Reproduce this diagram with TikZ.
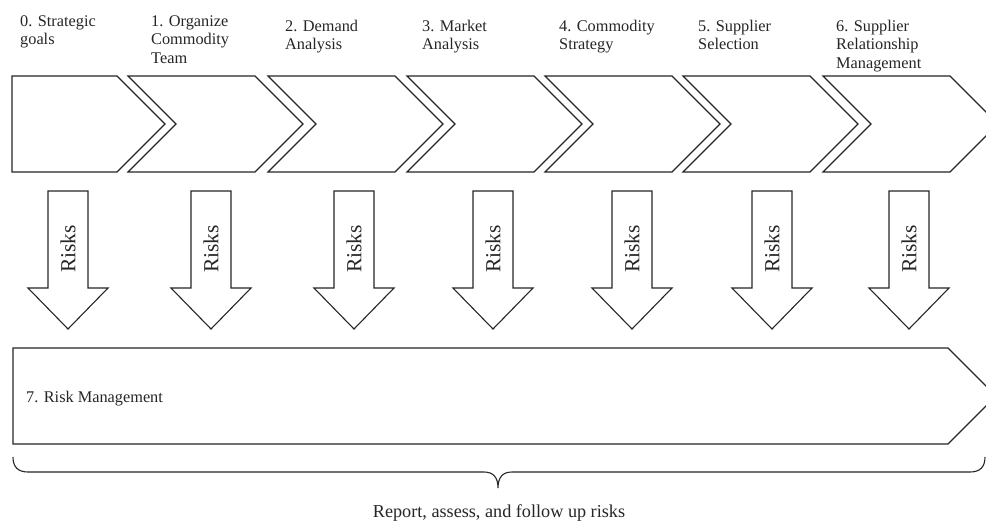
\documentclass[tikz,border=0pt]{standalone}
\usepackage{fontspec}
\setmainfont{Liberation Serif}
% lines stacked so that the box baseline is the first line's baseline
\newcommand\linestack[1]{\vtop{\halign{##\hfil\cr#1\crcr}}}
\begin{document}
\begin{tikzpicture}[x=1pt,y=-1pt,
  outline/.style={draw=black!85,line width=1.1pt,line join=miter,fill=white},
  steplabel/.style={anchor=base west,inner sep=0pt,text=black!85,
    font=\fontsize{16.3}{18.8}\selectfont},
  riskword/.style={rotate=90,inner sep=0pt,text=black!85,
    font=\fontsize{21.5}{24}\selectfont},
  plainlabel/.style={inner sep=0pt,text=black!85},
]
\clip (0,0) rectangle (986,520);
\fill[white] (0,0) rectangle (986,520);

% process chevrons
\draw[outline] (12,76) -- (117,76) -- (165,124) -- (117,172) -- (12,172) -- cycle;
\foreach \l in {128,268,407,545,683,823}{
  \draw[outline] (\l,76) -- ({\l+127},76) -- ({\l+175},124) -- ({\l+127},172)
    -- (\l,172) -- ({\l+48},124) -- cycle;
}

% stage titles
\node[steplabel] (s0) at (20,26) {\linestack{0. Strategic\cr goals}};
\node[steplabel] (s1) at (151,26) {\linestack{1. Organize\cr Commodity\cr Team}};
\node[steplabel] (s2) at (285,31) {\linestack{2. Demand\cr Analysis}};
\node[steplabel] (s3) at (422,31) {\linestack{3. Market\cr Analysis}};
\node[steplabel] (s4) at (559,31) {\linestack{4. Commodity\cr Strategy}};
\node[steplabel] (s5) at (698,31) {\linestack{5. Supplier\cr Selection}};
\node[steplabel] (s6) at (836,31) {\linestack{6. Supplier\cr Relationship\cr Management}};

% risk arrows
\foreach \c [count=\i] in {68,211,354,493,632,772,909}{
  \draw[outline] ({\c-20},191) -- ({\c+20},191) -- ({\c+20},288) -- ({\c+40},288)
    -- (\c,329) -- ({\c-40},288) -- ({\c-20},288) -- cycle;
  \node[riskword] (risk\i) at (\c,249) {Risks};
}

% risk management bar
\draw[outline] (13,348) -- (948,348) -- (996,396) -- (948,444) -- (13,444) -- cycle;
\node[plainlabel,anchor=base west,font=\fontsize{16.3}{18.8}\selectfont] (rm) at (26,402.5) {7. Risk Management};

% brace under the bar
\coordinate (bl) at (13,457);
\coordinate (bt) at (498,488);
\coordinate (br) at (985,457);
\draw[black!85,line width=1.1pt] (bl) .. controls (13,467) and (18,472) .. (28,472)
  -- (484,472) .. controls (493,472) and (498,477) .. (bt)
  .. controls (498,477) and (503,472) .. (512,472)
  -- (970,472) .. controls (980,472) and (985,467) .. (br);
\node[plainlabel,anchor=base,font=\fontsize{18.2}{21}\selectfont] (rep) at (499,517) {Report, assess, and follow up risks};
\end{tikzpicture}
\end{document}
